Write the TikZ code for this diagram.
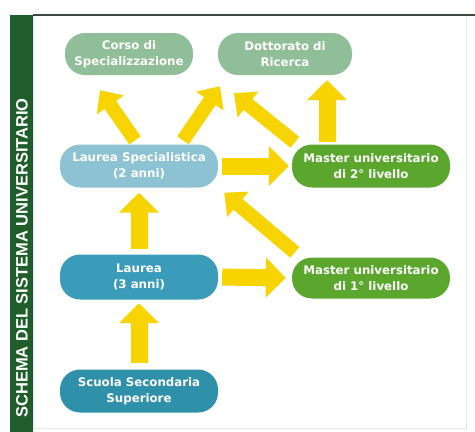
\documentclass[tikz,border=0pt]{standalone}
\usepackage{fontspec}
\setmainfont{DejaVu Sans}
\newfontfamily\barfont{Liberation Sans}
\usetikzlibrary{arrows.meta,calc}
\definecolor{bargreen}{HTML}{1F5E2A}
\definecolor{topline}{HTML}{3E4A40}
\definecolor{panelgray}{HTML}{E4E8E4}
\definecolor{topbox}{HTML}{8FBE98}
\definecolor{lsbox}{HTML}{8CC2D2}
\definecolor{masterbox}{HTML}{5BA72E}
\definecolor{laureabox}{HTML}{3B9CB9}
\definecolor{scuolabox}{HTML}{2F90AA}
\definecolor{arrowyellow}{HTML}{F7D400}
\tikzset{
  box/.style={rectangle, rounded corners=20pt, minimum width=158pt, minimum height=43pt,
    align=center, text=white, font=\bfseries\fontsize{11.8}{16.5}\selectfont, inner sep=1pt},
  flow/.style={draw=arrowyellow, line width=17pt, -{Triangle[width=39pt,length=20pt]}},
  diag/.style={draw=arrowyellow, line width=14pt, -{Triangle[width=32pt,length=18pt]}}
}
\begin{document}
\begin{tikzpicture}[x=1pt,y=-1pt]
\useasboundingbox (0,0) rectangle (475,432);
\fill[white] (0,0) rectangle (475,432);
\draw[panelgray] (33,15) rectangle (466,428);
\fill[bargreen] (10,15) rectangle (33,432);
\draw[topline, line width=2pt] (33,15) -- (475,15);
\node[rotate=90, text=white, font=\barfont\bfseries\fontsize{16.5}{16.5}\selectfont] (title) at (22,258) {SCHEMA DEL SISTEMA UNIVERSITARIO};

\node[box, fill=topbox, minimum width=128pt, minimum height=42pt] (corso) at (129,54) {Corso di\\Specializzazione};
\node[box, fill=topbox, minimum width=134pt, minimum height=42pt] (dott) at (285,54) {Dottorato di\\Ricerca};
\node[box, fill=lsbox] (ls) at (139,166) {Laurea Specialistica\\(2 anni)};
\node[box, fill=masterbox] (m2) at (371,166) {Master universitario\\di 2° livello};
\node[box, fill=laureabox, minimum height=45pt] (laurea) at (139,277) {Laurea\\(3 anni)};
\node[box, fill=masterbox, minimum height=41pt] (m1) at (371,278) {Master universitario\\di 1° livello};
\node[box, fill=scuolabox] (scuola) at (139,391) {Scuola Secondaria\\Superiore};

\coordinate (a1s) at ($(ls.north)+(-4,-4)$);
\coordinate (a1e) at ($(corso.south)+(-29,15)$);
\coordinate (a2s) at ($(ls.north)+(44,-4)$);
\coordinate (a2e) at ($(dott.south)+(-65,11)$);
\coordinate (a3s) at ($(m2.north west)+(3,-2)$);
\coordinate (a3e) at ($(dott.south)+(-51,18)$);
\coordinate (a4s) at ($(m2.north)+(-44,-2)$);
\coordinate (a4e) at ($(dott.south)+(42,5)$);
\coordinate (a5s) at ($(m1.north west)+(3,-5)$);
\coordinate (a5e) at ($(ls.south east)+(6,5)$);

\draw[flow, shorten <=6pt, shorten >=3.5pt] (scuola.north) -- (laurea.south);
\draw[flow, shorten <=5pt, shorten >=5pt] (laurea.north) -- (ls.south);
\draw[flow, shorten <=4pt, shorten >=6pt] (laurea.east) -- (m1.west);
\draw[flow, shorten <=4pt, shorten >=3pt] (ls.east) -- (m2.west);
\draw[diag] (a5s) -- (a5e);
\draw[diag] (a1s) -- (a1e);
\draw[diag] (a2s) -- (a2e);
\draw[diag] (a3s) -- (a3e);
\draw[flow] (a4s) -- (a4e);
\end{tikzpicture}
\end{document}
